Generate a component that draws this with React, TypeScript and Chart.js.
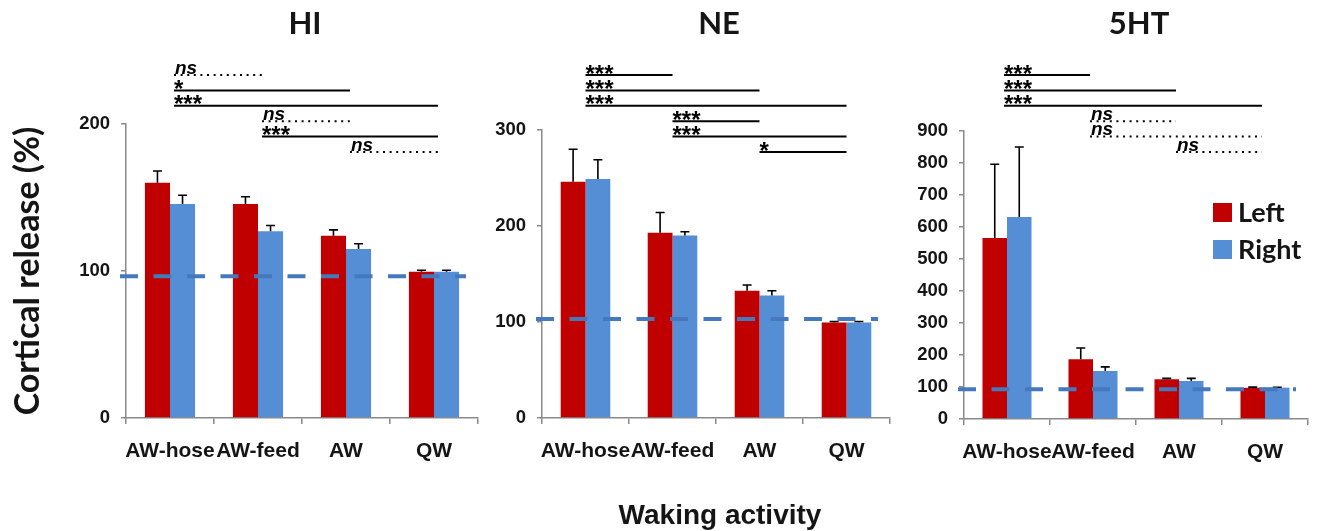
import React, { useEffect, useRef } from 'react';
import { Chart, registerables } from 'chart.js';

Chart.register(...registerables);

// ---------- data ----------
const CATEGORIES = ['AW-hose', 'AW-feed', 'AW', 'QW'];
const SERIES_NAMES = ['Left', 'Right'];
const PANEL_TITLES = ['HI', 'NE', '5HT'];
const Y_AXIS_TITLE = 'Cortical release (%)';
const X_AXIS_TITLE = 'Waking activity';

const HI_LEFT = [160, 145.5, 124, 99.5];
const HI_LEFT_ERR = [8, 5, 4, 1];
const HI_RIGHT = [145.5, 127, 115, 99.5];
const HI_RIGHT_ERR = [6, 4, 3.5, 1];
const HI_Y_TICKS = [0, 100, 200];
const HI_BASELINE = 96.5;
const HI_SIG = [
  { from: 0, to: 1, label: 'ns' },
  { from: 0, to: 2, label: '*' },
  { from: 0, to: 3, label: '***' },
  { from: 1, to: 2, label: 'ns' },
  { from: 1, to: 3, label: '***' },
  { from: 2, to: 3, label: 'ns' },
];

const NE_LEFT = [246, 193, 132.5, 99.5];
const NE_LEFT_ERR = [34, 21, 6, 1];
const NE_RIGHT = [249, 190, 127.5, 99.5];
const NE_RIGHT_ERR = [20, 4, 5, 1];
const NE_Y_TICKS = [0, 100, 200, 300];
const NE_BASELINE = 103;
const NE_SIG = [
  { from: 0, to: 1, label: '***' },
  { from: 0, to: 2, label: '***' },
  { from: 0, to: 3, label: '***' },
  { from: 1, to: 2, label: '***' },
  { from: 1, to: 3, label: '***' },
  { from: 2, to: 3, label: '*' },
];

const HT_LEFT = [566, 187, 124, 97.5];
const HT_LEFT_ERR = [230, 35, 3, 2];
const HT_RIGHT = [631, 150, 119, 98];
const HT_RIGHT_ERR = [219, 13, 8, 1];
const HT_Y_TICKS = [0, 100, 200, 300, 400, 500, 600, 700, 800, 900];
const HT_BASELINE = 93;
const HT_SIG = [
  { from: 0, to: 1, label: '***' },
  { from: 0, to: 2, label: '***' },
  { from: 0, to: 3, label: '***' },
  { from: 1, to: 2, label: 'ns' },
  { from: 1, to: 3, label: 'ns' },
  { from: 2, to: 3, label: 'ns' },
];

// ---------- styles ----------
const RED = '#C00000';
const BLUE = '#558ED5';
const AXIS_GRAY = '#8a8a8a';
const DASH_BLUE = '#4678bd';
const TEXT = '#151515';
const CANVAS_H = 531;
const X_AXIS_H = 60;

type Sig = { from: number; to: number; label: string };
type PanelCfg = {
  title: string;
  left: number[];
  leftErr: number[];
  right: number[];
  rightErr: number[];
  yTicks: number[];
  baseline: number;
  sig: Sig[];
  canvasLeft: number;
  canvasWidth: number;
  areaLeft: number;
  areaRight: number;
  areaTop: number;
  areaBottom: number;
  sigShift: number;
  yTitle: boolean;
  legend: boolean;
};

const PANELS: PanelCfg[] = [
  {
    title: PANEL_TITLES[0], left: HI_LEFT, leftErr: HI_LEFT_ERR, right: HI_RIGHT, rightErr: HI_RIGHT_ERR,
    yTicks: HI_Y_TICKS, baseline: HI_BASELINE, sig: HI_SIG,
    canvasLeft: 0, canvasWidth: 490, areaLeft: 126, areaRight: 478, areaTop: 124, areaBottom: 418, sigShift: 4,
    yTitle: true, legend: false,
  },
  {
    title: PANEL_TITLES[1], left: NE_LEFT, leftErr: NE_LEFT_ERR, right: NE_RIGHT, rightErr: NE_RIGHT_ERR,
    yTicks: NE_Y_TICKS, baseline: NE_BASELINE, sig: NE_SIG,
    canvasLeft: 490, canvasWidth: 410, areaLeft: 542, areaRight: 890, areaTop: 130, areaBottom: 418, sigShift: 0,
    yTitle: false, legend: false,
  },
  {
    title: PANEL_TITLES[2], left: HT_LEFT, leftErr: HT_LEFT_ERR, right: HT_RIGHT, rightErr: HT_RIGHT_ERR,
    yTicks: HT_Y_TICKS, baseline: HT_BASELINE, sig: HT_SIG,
    canvasLeft: 900, canvasWidth: 417, areaLeft: 964, areaRight: 1308, areaTop: 131, areaBottom: 419, sigShift: -3,
    yTitle: false, legend: true,
  },
];

const decorPlugin = {
  id: 'decor',
  afterDatasetsDraw(chart: any, _args: any, opts: any) {
    const ctx: CanvasRenderingContext2D = chart.ctx;
    const ca = chart.chartArea;
    const xs = chart.scales.x;
    const ys = chart.scales.y;
    ctx.save();

    // error bars (upper only)
    chart.data.datasets.forEach((ds: any, di: number) => {
      const meta = chart.getDatasetMeta(di);
      const errs: number[] = opts.errors[di];
      meta.data.forEach((bar: any, i: number) => {
        const v = ds.data[i];
        const top = ys.getPixelForValue(v + errs[i]);
        ctx.strokeStyle = '#000';
        ctx.lineWidth = 1.6;
        ctx.setLineDash([]);
        ctx.beginPath();
        ctx.moveTo(bar.x, bar.y);
        ctx.lineTo(bar.x, top);
        ctx.moveTo(bar.x - 4.5, top);
        ctx.lineTo(bar.x + 4.5, top);
        ctx.stroke();
      });
    });

    // dashed reference line
    const by = ys.getPixelForValue(opts.baseline);
    ctx.strokeStyle = DASH_BLUE;
    ctx.lineWidth = 4;
    ctx.setLineDash([18, 15.5]);
    ctx.beginPath();
    ctx.moveTo(ca.left - 6, by);
    ctx.lineTo(ca.right - 12, by);
    ctx.stroke();

    // significance annotations
    opts.sig.forEach((s: Sig, k: number) => {
      const ly = opts.sigTop + k * opts.sigStep;
      const x1 = xs.getPixelForValue(s.from) + opts.sigShift;
      const x2 = xs.getPixelForValue(s.to) + opts.sigShift;
      const dotted = s.label === 'ns';
      ctx.strokeStyle = '#000';
      ctx.lineWidth = 2;
      ctx.setLineDash(dotted ? [2, 4.6] : []);
      ctx.beginPath();
      ctx.moveTo(x1, ly);
      ctx.lineTo(x2, ly);
      ctx.stroke();
      ctx.setLineDash([]);
      ctx.fillStyle = '#000';
      ctx.textAlign = 'left';
      ctx.textBaseline = 'alphabetic';
      if (dotted) {
        ctx.font = 'italic bold 19px "Liberation Sans"';
        ctx.fillText(s.label, x1 + 1, ly - 1.5);
      } else {
        ctx.font = 'bold 24px "Liberation Sans"';
        ctx.fillText(s.label, x1, ly + 6.5);
      }
    });

    // panel title
    ctx.fillStyle = TEXT;
    ctx.font = 'bold 31px Lato';
    ctx.textAlign = 'center';
    ctx.textBaseline = 'middle';
    ctx.fillText(opts.title, (ca.left + ca.right) / 2 + 3, 24);

    // legend
    if (opts.legend) {
      chart.data.datasets.forEach((ds: any, di: number) => {
        const top = opts.legendY + di * opts.legendStep;
        ctx.fillStyle = ds.backgroundColor;
        ctx.fillRect(opts.legendX, top, 19, 19);
        ctx.fillStyle = TEXT;
        ctx.font = 'bold 27px Lato';
        ctx.textAlign = 'left';
        ctx.textBaseline = 'middle';
        ctx.fillText(ds.label, opts.legendX + 25, top + 10);
      });
    }
    ctx.restore();
  },
};

function Panel({ cfg }: { cfg: PanelCfg }) {
  const ref = useRef<HTMLCanvasElement | null>(null);
  useEffect(() => {
    if (!ref.current) return;
    const yWidth = cfg.areaLeft - cfg.canvasLeft;
    const chart = new Chart(ref.current, {
      type: 'bar',
      data: {
        labels: CATEGORIES,
        datasets: [
          { label: SERIES_NAMES[0], data: cfg.left, backgroundColor: RED, categoryPercentage: 0.57, barPercentage: 1 },
          { label: SERIES_NAMES[1], data: cfg.right, backgroundColor: BLUE, categoryPercentage: 0.57, barPercentage: 1 },
        ],
      },
      plugins: [decorPlugin],
      options: {
        responsive: false,
        animation: false,
        devicePixelRatio: 1,
        layout: {
          padding: {
            left: 0,
            top: cfg.areaTop,
            right: cfg.canvasLeft + cfg.canvasWidth - cfg.areaRight,
            bottom: CANVAS_H - cfg.areaBottom - X_AXIS_H,
          },
        },
        scales: {
          x: {
            grid: { display: true, drawOnChartArea: false, drawTicks: true, tickLength: 6, color: AXIS_GRAY, lineWidth: 1.5, offset: true },
            border: { display: true, color: AXIS_GRAY, width: 1.5 },
            ticks: {
              autoSkip: false, maxRotation: 0, minRotation: 0, padding: 15,
              color: TEXT, font: { family: '"Liberation Sans"', weight: 'bold', size: 21 },
            },
            afterFit: (s: any) => { s.height = X_AXIS_H; },
          },
          y: {
            min: cfg.yTicks[0],
            max: cfg.yTicks[cfg.yTicks.length - 1],
            afterBuildTicks: (s: any) => { s.ticks = cfg.yTicks.map((v) => ({ value: v })); },
            grid: { display: true, drawOnChartArea: false, drawTicks: true, tickLength: 5, color: AXIS_GRAY, lineWidth: 1.5 },
            border: { display: true, color: AXIS_GRAY, width: 1.5 },
            ticks: { padding: 11, color: TEXT, font: { family: '"Liberation Sans"', weight: 'bold', size: 18.5 } },
            title: {
              display: cfg.yTitle,
              text: Y_AXIS_TITLE,
              color: TEXT,
              font: { family: 'Lato', weight: 'bold', size: 34 },
              padding: { top: 8, bottom: 0 },
            },
            afterFit: (s: any) => { s.width = yWidth; },
          },
        },
        plugins: {
          legend: { display: false },
          tooltip: { enabled: false },
          decor: {
            errors: [cfg.leftErr, cfg.rightErr],
            baseline: cfg.baseline,
            sig: cfg.sig,
            sigTop: 75,
            sigStep: 15.4,
            sigShift: cfg.sigShift,
            title: cfg.title,
            legend: cfg.legend,
            legendX: 313,
            legendY: 203,
            legendStep: 37,
          },
        } as any,
      },
    } as any);
    return () => chart.destroy();
  }, [cfg]);
  return (
    <canvas
      ref={ref}
      width={cfg.canvasWidth}
      height={CANVAS_H}
      style={{ position: 'absolute', left: cfg.canvasLeft, top: 0, width: cfg.canvasWidth, height: CANVAS_H }}
    />
  );
}

export default function App() {
  return (
    <div style={{ position: 'absolute', left: 0, top: 0, width: 1317, height: 531, background: '#fff', overflow: 'hidden' }}>
      {PANELS.map((p) => (
        <Panel key={p.title} cfg={p} />
      ))}
      <div
        style={{
          position: 'absolute', left: 420, width: 600, top: 501, textAlign: 'center',
          font: 'bold 28px "Liberation Sans"', lineHeight: '28px', color: TEXT,
        }}
      >
        {X_AXIS_TITLE}
      </div>
    </div>
  );
}
